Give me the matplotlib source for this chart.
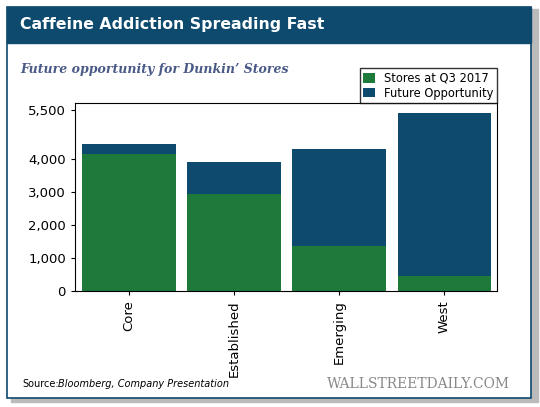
import matplotlib
matplotlib.use("Agg")
import matplotlib.pyplot as plt
from matplotlib.patches import Rectangle

categories = ["Core", "Established", "Emerging", "West"]
stores_q3_2017 = [4150, 2940, 1360, 450]
future_opportunity = [300, 960, 2940, 4950]
yticks = [0, 1000, 2000, 3000, 4000, 5500]
ytick_labels = ["0", "1,000", "2,000", "3,000", "4,000", "5,500"]

green = "#1d7a3a"
blue = "#0d4a6e"
W, H = 540, 407
fig = plt.figure(figsize=(W/100, H/100), dpi=100)
fig.patch.set_facecolor("white")

def fx(x): return x / W
def fy(y): return 1 - y / H

fig.patches.append(Rectangle((fx(11), fy(402)), fx(527), 393/H, transform=fig.transFigure, color="#bbbbbb", zorder=0))
fig.patches.append(Rectangle((fx(7), fy(398)), fx(524), 391/H, transform=fig.transFigure, facecolor="white", edgecolor=blue, lw=1.2, zorder=1))
fig.patches.append(Rectangle((fx(7), fy(43)), fx(524), 36/H, transform=fig.transFigure, color=blue, zorder=2))
fig.text(fx(20), fy(25), "Caffeine Addiction Spreading Fast", color="white", fontsize=11.3, fontweight="bold", va="center", zorder=3)
fig.text(fx(20), fy(70), "Future opportunity for Dunkin\u2019 Stores", color="#4a5a86", fontsize=9, fontstyle="italic", fontweight="bold", family="DejaVu Serif", va="center")

ax = fig.add_axes([fx(75), fy(291), fx(497-75), (291-103)/H])
ax.set_zorder(5)
x = range(len(categories))
ax.bar(x, stores_q3_2017, width=0.89, color=green, label="Stores at Q3 2017")
ax.bar(x, future_opportunity, bottom=stores_q3_2017, width=0.89, color=blue, label="Future Opportunity")
ax.set_xlim(-0.51, 3.5)
ax.set_ylim(0, 5700)
ax.set_yticks(yticks)
ax.set_yticklabels(ytick_labels, fontsize=9.5)
ax.set_xticks(list(x))
ax.set_xticklabels(categories, rotation=90, fontsize=9.5)
for s in ax.spines.values():
    s.set_linewidth(0.8)
ax.tick_params(length=3)
ax.legend(loc="lower right", bbox_to_anchor=(1.0, 1.0), borderaxespad=0, fontsize=8.3, frameon=True, fancybox=False,
          edgecolor="black", handlelength=1.0, handleheight=0.9, borderpad=0.3, labelspacing=0.15)

fig.text(fx(22), fy(384), "Source:", fontsize=7, va="center")
fig.text(fx(58), fy(384), "Bloomberg, Company Presentation", fontsize=7, fontstyle="italic", va="center")
fig.text(fx(510), fy(384), "WALLSTREETDAILY.COM", fontsize=10, family="DejaVu Serif", color="#888888", ha="right", va="center")
fig.savefig("out.png", dpi=100)
